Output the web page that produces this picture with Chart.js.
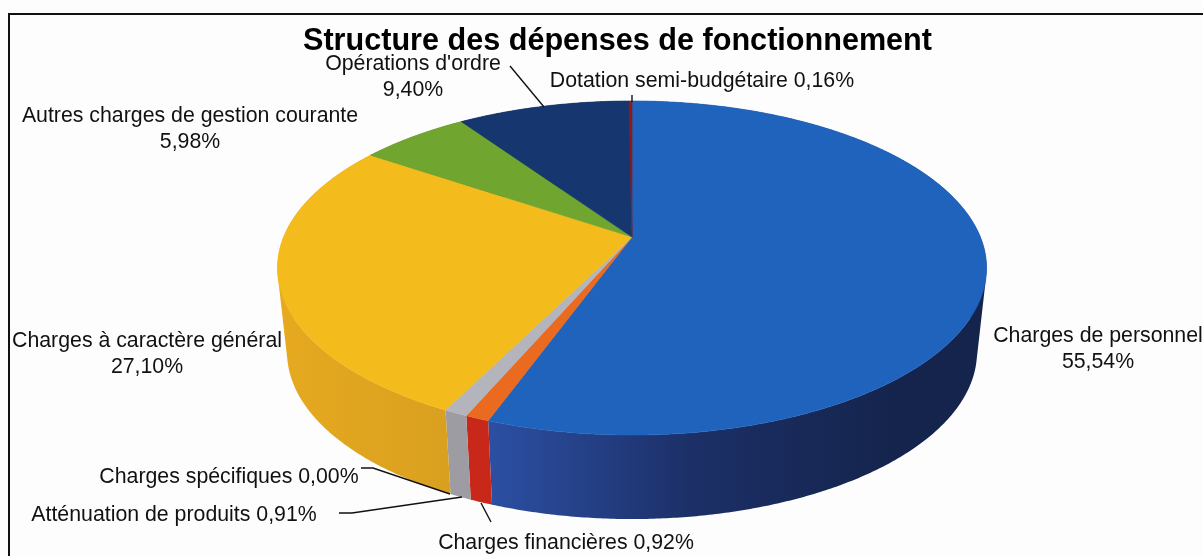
<!DOCTYPE html>
<html>
<head>
<meta charset="utf-8">
<style>
html,body{margin:0;padding:0;background:#fdfdfd;overflow:hidden}
canvas{display:block;filter:blur(0.35px)}
</style>
<script src="https://cdn.jsdelivr.net/npm/chart.js@4/dist/chart.umd.js"></script>
</head>
<body>
<canvas id="c" width="1203" height="556"></canvas>
<script>
const titleText = "Structure des dépenses de fonctionnement";
const categories = ["Charges de personnel","Charges financières","Atténuation de produits","Charges spécifiques","Charges à caractère général","Autres charges de gestion courante","Opérations d'ordre","Dotation semi-budgétaire"];
const values = [55.54,0.92,0.91,0.00,27.10,5.98,9.40,0.16];
const topColors = ["#1f63bd","#ea6a1f","#b4b4bc","#b4b4bc","#f3bb1c","#70a52f","#16366f","#8c1c1c"];
const wallColors = [["#2c4fa3","#1c2f66","#14244c"],["#c8281a"],["#9c9ca2"],["#9c9ca2"],["#e6a91f","#d9a020"],["#56801f"],["#0f2450"],["#6c1414"]];

// perspective of the pie's top face and offset of the lower rim
const G = {cx:632, A:117.3, B:237, C:-0.1856, D:348.4, drop:84, shrink:0.973};
function rim(angle){               // library angle -> point on the top rim
  const a = angle + Math.PI/2, u = Math.sin(a), v = -Math.cos(a), w = 1 + G.C*v;
  return [G.cx + G.D*u/w, (G.A*v + G.B)/w];
}
function rimPoints(s,e){
  const n = Math.max(2, Math.ceil((e-s)/0.008)), p = [];
  for(let i=0;i<=n;i++) p.push(rim(s+(e-s)*i/n));
  return p;
}
const lower = p => [G.cx+(p[0]-G.cx)*G.shrink, p[1]+G.drop];

// top face of each slice: the library's arc element, drawn in perspective
Chart.ArcElement.prototype.draw = function(ctx){
  if(this.endAngle - this.startAngle <= 0) return;
  ctx.save();
  ctx.beginPath();
  ctx.moveTo(G.cx, G.B);
  rimPoints(this.startAngle,this.endAngle).forEach(p=>ctx.lineTo(p[0],p[1]));
  ctx.closePath();
  ctx.fillStyle = this.options.backgroundColor;
  ctx.strokeStyle = this.options.backgroundColor;
  ctx.lineWidth = 0.6;
  ctx.fill(); ctx.stroke();
  ctx.restore();
};

const wallPlugin = {
  id:'walls',
  beforeDatasetsDraw(chart){
    const ctx = chart.ctx, arcs = chart.getDatasetMeta(0).data;
    ctx.save();
    arcs.forEach((arc,i)=>{
      if(arc.endAngle - arc.startAngle <= 0) return;
      const pts = rimPoints(arc.startAngle,arc.endAngle), cols = wallColors[i];
      let fill = cols[0];
      if(cols.length>1){
        const g = i===0 ? ctx.createLinearGradient(490,0,900,0) : ctx.createLinearGradient(280,0,450,0);
        cols.forEach((c,k)=>g.addColorStop(k/(cols.length-1),c));
        fill = g;
      }
      ctx.fillStyle = fill;
      ctx.beginPath();
      for(let k=0;k<pts.length-1;k++){
        let q=[pts[k],pts[k+1],lower(pts[k+1]),lower(pts[k])], area=0;
        q.forEach((p,j)=>{const n=q[(j+1)%4]; area+=p[0]*n[1]-n[0]*p[1];});
        if(area<0) q.reverse();
        q.forEach((p,j)=>j?ctx.lineTo(p[0],p[1]):ctx.moveTo(p[0],p[1]));
        ctx.closePath();
      }
      ctx.fill();
    });
    ctx.restore();
  }
};

const pct = v => v.toFixed(2).replace('.',',') + '%';
// [line 1 centre x, baseline y, two lines?]
const labelPlaces = [[1098,342,true],[566,549,false],[174,521,false],[229,483,false],[147,347,true],[190,122,true],[413,70,true],[702,87,false]];
const leaders = [
  [[510,66],[544,107]],
  [[632,95],[632,102]],
  [[361,468],[373,468],[450,494]],
  [[339,513],[352,513],[462,497]],
  [[481,503],[491,522]]
];
const labelPlugin = {
  id:'labels',
  afterLayout(chart){ chart.titleBlock.left += 16; chart.titleBlock.right += 16; },
  beforeDraw(chart){
    const ctx = chart.ctx;
    ctx.save();
    ctx.fillStyle = '#fdfdfd';
    ctx.fillRect(0,0,chart.width,chart.height);
    ctx.strokeStyle = '#111'; ctx.lineWidth = 2;
    ctx.beginPath(); ctx.moveTo(9,556); ctx.lineTo(9,14); ctx.lineTo(1203,14); ctx.stroke();
    ctx.restore();
  },
  afterDraw(chart){
    const ctx = chart.ctx;
    ctx.save();
    ctx.strokeStyle = '#111'; ctx.lineWidth = 1.4;
    leaders.forEach(l=>{ ctx.beginPath(); l.forEach((p,k)=>k?ctx.lineTo(p[0],p[1]):ctx.moveTo(p[0],p[1])); ctx.stroke(); });
    ctx.fillStyle = '#111';
    ctx.font = '21.3px "Liberation Sans"';
    ctx.textAlign = 'center'; ctx.textBaseline = 'alphabetic';
    categories.forEach((name,i)=>{
      const [x,y,two] = labelPlaces[i];
      if(two){ ctx.fillText(name,x,y); ctx.fillText(pct(values[i]),x,y+26); }
      else ctx.fillText(name+' '+pct(values[i]),x,y);
    });
    ctx.restore();
  }
};

new Chart(document.getElementById('c'),{
  type:'pie',
  data:{labels:categories,datasets:[{data:values,backgroundColor:topColors,borderWidth:0}]},
  options:{
    responsive:false,animation:false,
    events:[],
    plugins:{
      legend:{display:false},
      tooltip:{enabled:false},
      title:{display:true,text:titleText,color:'#000',
        font:{family:'"Liberation Sans"',size:30.6,weight:'bold'},padding:{top:23,bottom:0}}
    }
  },
  plugins:[wallPlugin,labelPlugin]
});
</script>
</body>
</html>
